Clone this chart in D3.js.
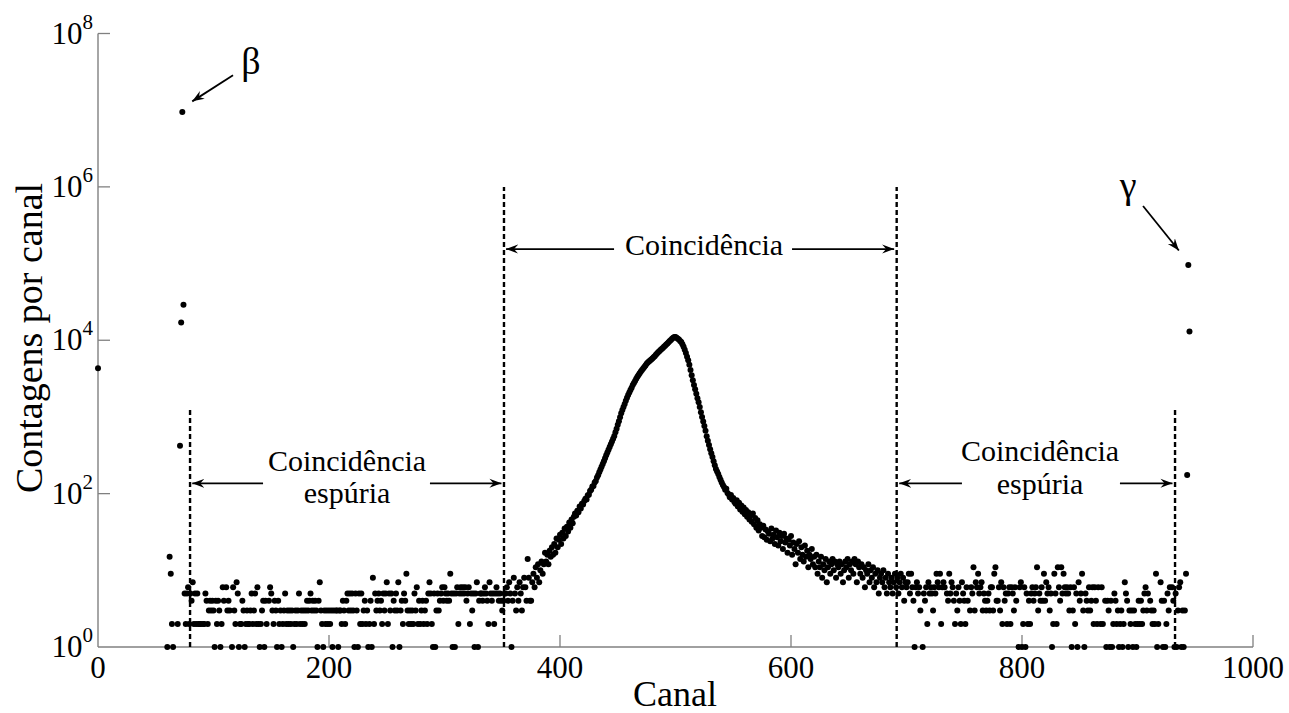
<!DOCTYPE html>
<html>
<head>
<meta charset="utf-8">
<script src="https://cdn.jsdelivr.net/npm/d3@7"></script>
<style>
  html, body { margin: 0; padding: 0; background: #fff; }
  svg { display: block; }
  text { font-family: "Liberation Serif", "DejaVu Serif", serif; fill: #000; }
</style>
</head>
<body>
<svg id="chart" width="1289" height="713"></svg>
<script>
// ---- spectrum data: counts per channel (0 = empty channel, not drawn on log axis) ----
const isolatedChannels = [0];
const isolatedCounts = [4300];

// channels 58..352 (beta peak + low spurious-coincidence window)
const lowStart = 58;
const lowCounts = [
  0,0,1,0,15,9,2,1,0,0,0,2,0,420,17000,9500000,29000,
  5,2,5,6,2,5,4,7,2,5,2,5,2,2,2,0,2,2,5,4,2,3,4,3,4,
  3,1,4,2,4,3,1,2,6,4,0,6,3,4,3,0,1,6,3,2,7,5,1,2,2,
  4,3,1,2,3,2,2,3,5,2,3,5,2,6,2,1,2,3,4,1,4,2,0,4,6,
  5,3,2,4,3,1,4,2,3,1,2,3,5,2,3,2,3,2,3,1,2,3,2,3,5,
  2,3,2,3,2,3,4,3,4,5,3,4,3,4,3,1,4,7,3,2,1,3,2,3,2,
  3,2,3,1,3,0,3,3,1,3,3,2,4,3,2,4,5,3,5,3,5,3,1,5,3,
  1,5,2,5,2,3,4,2,3,1,2,4,1,8,2,5,3,4,5,3,4,2,5,3,5,
  7,2,5,3,5,1,4,3,5,3,7,1,3,4,2,5,4,9,3,2,3,2,3,2,5,
  3,6,2,4,2,3,4,2,3,4,2,5,7,5,2,1,5,1,3,5,3,4,5,6,4,
  6,5,4,5,4,9,5,1,5,1,5,6,2,5,6,5,6,5,6,4,5,6,2,5,3,
  5,1,5,7,1,4,5,5,4,5,6,5,4,2,7,5,4,5,2,5,6,5,4,5,4,3,4,5
];

// channels 353..700 (true-coincidence peak)
const peakStart = 353;
const peakCounts = [
  5,6,4,7,5,1,4,8,5,3,6,4,7,5,3,6,8,
  6,4,14,8,4,4,7,9,6,11,8,12,7,10,13,9,12,17,13,16,12,18,15,20,16,
  22,17,26,20,25,29,22,31,26,35,28,37,32,42,36,46,41,50,55,52,60,57,68,64,74,72,
  80,86,84,95,97,108,112,124,126,140,146,162,174,190,206,224,243,265,290,316,345,372,405,440,478,520,565,630,700,790,
  880,990,1120,1230,1350,1480,1620,1780,1930,2080,2240,2400,2600,2780,2950,3150,3330,3520,3700,3900,
  4080,4280,4470,4680,4950,5120,5300,5460,5620,5800,6000,6200,6450,6700,6950,7200,7450,7700,7950,8200,8500,8800,9100,9400,9750,10100,10500,10800,11000,
  11000,10800,10500,10200,9800,9500,8900,8200,7500,6800,6100,5500,4800,4100,3500,3000,2600,2300,2000,1750,1560,1350,1150,1000,870,760,660,560,490,430,380,335,300,265,235,210,195,180,165,152,140,130,
  122,112,116,102,98,90,96,84,88,78,74,82,68,76,62,70,58,66,54,61,50,57,46,52,43,55,40,48,36,45,33,40,
  36,28,38,27,34,25,32,30,24,35,26,29,22,33,27,21,31,24,28,19,30,23,26,17,25,21,28,16,23,19,12,22,17,24,14,20,16,13,21,15,18,11,16,14,19,12,15,
  11,16,9,13,11,15,8,12,10,14,7,11,13,9,12,14,10,13,8,12,11,13,9,12,7,10,13,11,14,8,
  12,10,13,9,14,12,7,13,11,9,12,8,11,6,10,9,12,7,10,8,11,6,9,7,10,5,8,9,7,10,
  6,8,5,9,7,6,8,5,7,9,6,8,5,7,9,6,8,4,7,6
];

// channels 701..945 (high spurious-coincidence window + gamma peak)
const highStart = 701;
const highCounts = [
  7,9,5,9,6,4,1,6,7,5,6,3,0,1,5,4,6,2,7,5,
  6,5,3,6,5,9,7,6,9,2,6,7,6,0,5,4,9,5,7,6,4,2,5,3,6,
  4,2,7,5,4,2,6,4,0,3,6,5,11,3,7,6,9,5,6,7,3,5,4,3,4,
  5,3,6,6,3,9,11,4,4,6,3,7,2,6,4,5,2,5,6,2,6,5,3,6,4,
  0,1,6,7,1,2,6,1,5,2,4,2,5,6,4,5,6,11,3,5,4,6,4,9,4,
  7,5,6,3,5,1,2,9,5,2,11,6,4,11,5,9,6,5,6,5,3,6,1,3,6,
  2,5,1,7,4,5,9,3,1,5,4,3,6,3,4,6,2,6,4,2,6,0,2,6,2,
  0,4,1,4,3,1,4,1,2,5,4,2,3,1,2,3,1,2,7,5,4,1,3,2,3,
  1,3,2,1,2,4,2,4,2,3,5,6,3,5,0,4,3,2,3,2,9,1,2,0,7,
  4,1,4,1,2,5,3,6,0,6,4,1,5,1,3,6,7,1,3,1,3,9,175,96000,13000
];

// axis ticks
const xTicks = [0, 200, 400, 600, 800, 1000];
const yTickExponents = [0, 2, 4, 6, 8];

// window limits (channel) and the count each dashed line reaches
const windowEdges = [79.7, 351.5, 691.5, 932.5];
const windowTops = [1300, 1e6, 1e6, 1300];

// ---- build points ----
const points = [];
isolatedChannels.forEach((c, i) => points.push({ ch: c, n: isolatedCounts[i] }));
[[lowStart, lowCounts], [peakStart, peakCounts], [highStart, highCounts]].forEach(([s, arr]) => {
  arr.forEach((n, i) => points.push({ ch: s + i, n }));
});
const visible = points.filter(d => d.n > 0);

// ---- scales ----
const svg = d3.select("#chart");
const x = d3.scaleLinear().domain([0, 1000]).range([98, 1253]);
const y = d3.scaleLog().domain([1, 1e8]).range([647, 33.5]);

const axisColor = "#808080";

// arrow head marker
const defs = svg.append("defs");
defs.append("marker")
  .attr("id", "head")
  .attr("viewBox", "-12 -6 14 12")
  .attr("refX", 0).attr("refY", 0)
  .attr("markerWidth", 14).attr("markerHeight", 12)
  .attr("markerUnits", "userSpaceOnUse")
  .attr("orient", "auto")
  .append("path")
  .attr("d", "M0,0 L-12,-4.5 L-8,0 L-12,4.5 Z")
  .attr("fill", "#000");

// ---- axes ----
const axes = svg.append("g");
axes.append("line")
  .attr("x1", x(0)).attr("x2", x(1000))
  .attr("y1", y(1)).attr("y2", y(1))
  .attr("stroke", axisColor).attr("stroke-width", 1.4);
axes.append("line")
  .attr("x1", x(0)).attr("x2", x(0))
  .attr("y1", y(1)).attr("y2", y(1e8))
  .attr("stroke", axisColor).attr("stroke-width", 1.4);

// x ticks (inward)
axes.selectAll(".xt").data(xTicks.filter(t => t > 0)).join("line")
  .attr("x1", d => x(d)).attr("x2", d => x(d))
  .attr("y1", y(1)).attr("y2", y(1) - 12)
  .attr("stroke", axisColor).attr("stroke-width", 1.3);
axes.selectAll(".xl").data(xTicks).join("text")
  .attr("x", d => x(d)).attr("y", y(1) + 31)
  .attr("text-anchor", "middle")
  .attr("font-size", 31)
  .text(d => d);

// y ticks (inward)
axes.selectAll(".yt").data(yTickExponents.filter(e => e > 0)).join("line")
  .attr("x1", x(0)).attr("x2", x(0) + 12)
  .attr("y1", d => y(Math.pow(10, d))).attr("y2", d => y(Math.pow(10, d)))
  .attr("stroke", axisColor).attr("stroke-width", 1.3);
const yl = axes.selectAll(".yl").data(yTickExponents).join("text")
  .attr("x", x(0) - 5).attr("y", d => y(Math.pow(10, d)) + 10)
  .attr("text-anchor", "end")
  .attr("font-size", 31);
yl.append("tspan").text("10");
yl.append("tspan").attr("dy", -15).attr("font-size", 21).text(d => d);

// axis titles
svg.append("text")
  .attr("x", 675).attr("y", 706)
  .attr("text-anchor", "middle")
  .attr("font-size", 36)
  .text("Canal");
svg.append("text")
  .attr("transform", "translate(42,338) rotate(-90)")
  .attr("text-anchor", "middle")
  .attr("font-size", 38)
  .text("Contagens por canal");

// ---- window limits (dashed) ----
svg.append("g").selectAll("line").data(windowEdges).join("line")
  .attr("x1", d => x(d)).attr("x2", d => x(d))
  .attr("y1", y(1)).attr("y2", (d, i) => y(windowTops[i]))
  .attr("stroke", "#000").attr("stroke-width", 2.4)
  .attr("stroke-dasharray", "5,3");

// ---- data points ----
svg.append("g").selectAll("circle").data(visible).join("circle")
  .attr("cx", d => x(d.ch))
  .attr("cy", d => y(d.n))
  .attr("r", 3)
  .attr("fill", "#000");

// ---- annotations (channel, log10 count) ----
const arrows = [
  [446.8, 5.189, 353.3, 5.189],
  [600.9, 5.189, 689.3, 5.189],
  [142.9, 2.134, 81.6, 2.134],
  [287.4, 2.134, 349.3, 2.134],
  [748.0, 2.134, 693.7, 2.134],
  [884.8, 2.134, 930.3, 2.134],
  [116.9, 7.457, 81.6, 7.115],
  [904.8, 5.750, 935.8, 5.170]
];
svg.append("g").selectAll("line").data(arrows).join("line")
  .attr("x1", d => x(d[0])).attr("y1", d => y(Math.pow(10, d[1])))
  .attr("x2", d => x(d[2])).attr("y2", d => y(Math.pow(10, d[3])))
  .attr("stroke", "#000").attr("stroke-width", 1.8)
  .attr("marker-end", "url(#head)");

const labels = [
  ["Coincidência", 524.7, 5.115, 30],
  ["Coincidência", 215.6, 2.300, 30],
  ["espúria", 215.6, 1.880, 30],
  ["Coincidência", 815.6, 2.420, 30],
  ["espúria", 815.6, 2.000, 30],
  ["β", 132.5, 7.470, 38],
  ["γ", 891.8, 5.850, 38]
];
svg.append("g").selectAll("text").data(labels).join("text")
  .attr("x", d => x(d[1]))
  .attr("y", d => y(Math.pow(10, d[2])))
  .attr("text-anchor", "middle")
  .attr("font-size", d => d[3])
  .text(d => d[0]);
</script>
</body>
</html>
